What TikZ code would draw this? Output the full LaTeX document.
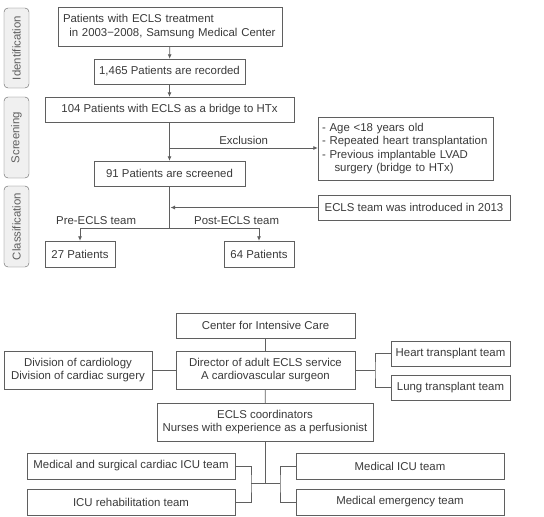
\documentclass[tikz,border=0pt]{standalone}
\usepackage{fontspec}
\setmainfont{Liberation Sans}
\usetikzlibrary{arrows.meta,positioning}
\definecolor{flowInk}{RGB}{58,58,58}
\definecolor{flowLine}{RGB}{95,95,95}
\definecolor{stageFill}{RGB}{240,240,240}

\begin{document}
\begin{tikzpicture}[
  x=1pt, y=-1pt,
  every node/.style={align=center, font=\fontsize{11.4}{13.3}\selectfont, text=flowInk},
  stage/.style={draw=flowLine, fill=stageFill, rounded corners=4pt, rotate=90,
    minimum height=25pt, inner sep=1pt, text=flowLine},
  stepbox/.style={draw=flowLine, fill=white, minimum height=25pt, inner sep=2pt},
  flow/.style={-{Latex[length=4.5pt,width=4pt]}, draw=flowLine, thick},
  link/.style={draw=flowLine, thick}
]
\useasboundingbox (0,0) rectangle (544,517);

% - 1. Stages -
\node[stage, minimum width=80pt] (ident) at (16.5,48) {Identification};
\node[stage, minimum width=81pt] (screen) at (16.5,137.5) {Screening};
\node[stage, minimum width=81pt] (classif) at (16.5,226.5) {Classification};

% - 2. Patient flow -
\node[stepbox, minimum width=224pt, minimum height=39pt, text width=214pt, align=left] (treated) at (170,26.5)
  {Patients with ECLS treatment\\\hspace*{0.55em}in 2003−2008, Samsung Medical Center};
\node[stepbox, minimum width=151pt] (recorded) at (169.5,71.5) {1,465 Patients are recorded};
\node[stepbox, minimum width=249pt] (bridge) at (169.5,109.5) {104 Patients with ECLS as a bridge to HTx};
\node[stepbox, minimum width=175pt, minimum height=63pt, text width=167pt, align=left] (exclude) at (405.5,148.5)
  {- Age <18 years old\\- Repeated heart transplantation\\- Previous implantable LVAD\\\hspace*{1.1em}surgery (bridge to HTx)};
\node[stepbox, minimum width=151pt] (screened) at (169.5,173.5) {91 Patients are screened};
\node[stepbox, minimum width=192pt] (teamintro) at (414,207.5) {ECLS team was introduced in 2013};
\node[stepbox, minimum width=70pt, minimum height=26pt] (pre) at (80,254) {27 Patients};
\node[stepbox, minimum width=70pt, minimum height=26pt] (post) at (259,254) {64 Patients};

\coordinate (exjoin) at (169.5,148);
\coordinate (split) at (169.5,228);

\draw[flow] (treated) -- (recorded);
\draw[flow] (recorded) -- (bridge);
\draw[flow] (bridge) -- (screened);
\draw[flow] (exjoin) -- node[above] {Exclusion} (exjoin -| exclude.west);
\draw[flow] (teamintro.west) -- ([xshift=1pt]teamintro.west -| screened.south);
\draw[link] (screened) -- (split);
\draw[flow] (split) -| node[pos=0.41, above] {Pre-ECLS team} (pre.north);
\draw[flow] (split) -| node[pos=0.375, above] {Post-ECLS team} (post.north);

% - 3. ECLS team organisation -
\node[stepbox, minimum width=179pt] (icc) at (265.5,325.5) {Center for Intensive Care};
\node[stepbox, minimum width=179pt, minimum height=38pt] (director) at (265.5,370)
  {Director of adult ECLS service\\A cardiovascular surgeon};
\node[stepbox, minimum width=148pt, minimum height=38pt] (division) at (78,370)
  {Division of cardiology\\Division of cardiac surgery};
\node[stepbox, minimum width=119pt] (heart) at (450.5,353.5) {Heart transplant team};
\node[stepbox, minimum width=119pt] (lung) at (450.5,387.5) {Lung transplant team};
\node[stepbox, minimum width=216pt, minimum height=38pt] (coord) at (265,422)
  {ECLS coordinators\\Nurses with experience as a perfusionist};
\node[stepbox, minimum width=208pt, minimum height=26pt] (cicu) at (131,466) {Medical and surgical cardiac ICU team};
\node[stepbox, minimum width=208pt, minimum height=26pt] (rehab) at (131,502) {ICU rehabilitation team};
\node[stepbox, minimum width=208pt, minimum height=26pt] (micu) at (400,466) {Medical ICU team};
\node[stepbox, minimum width=208pt, minimum height=26pt] (emerg) at (400,502) {Medical emergency team};

\coordinate (rjoin) at (375,370);
\coordinate (bjoin) at (265,483);
\coordinate (bleft) at (251,483);
\coordinate (bright) at (280,483);

\draw[link] (icc) -- (director);
\draw[link] (division) -- (director);
\draw[link] (director.east) -- (rjoin);
\draw[link] (heart.west) -| (rjoin) |- (lung.west);
\draw[link] (director) -- (coord);
\draw[link] (coord) -- (bjoin);
\draw[link] (bleft) -- (bright);
\draw[link] (cicu.east) -| (bleft) |- (rehab.east);
\draw[link] (micu.west) -| (bright) |- (emerg.west);

\end{tikzpicture}
\end{document}
